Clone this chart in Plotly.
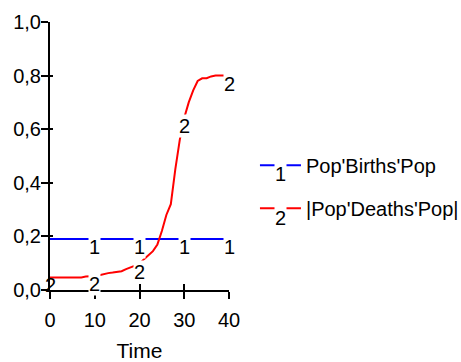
import plotly.graph_objects as go

# Simulation output, sampled once per time unit
time = list(range(0, 41))
births = [0.19] * 41
deaths = [0.047, 0.047, 0.047, 0.047, 0.047, 0.047, 0.047, 0.047, 0.050, 0.050,
          0.052, 0.055, 0.060, 0.063, 0.065, 0.067, 0.070, 0.078, 0.085, 0.090,
          0.097, 0.115, 0.130, 0.145, 0.170, 0.220, 0.280, 0.320, 0.450, 0.560,
          0.643, 0.700, 0.745, 0.780, 0.790, 0.790, 0.797, 0.800, 0.800, 0.800,
          0.800]

# Series identifiers drawn along each curve
births_marks = [10, 20, 30, 40]
deaths_marks = [0, 10, 20, 30, 40]

y_ticks = [0.0, 0.2, 0.4, 0.6, 0.8, 1.0]
x_ticks = [0, 10, 20, 30, 40]

FONT = "Liberation Sans, Arial, sans-serif"
FS = 20

fig = go.Figure()
fig.add_trace(go.Scatter(x=time, y=births, mode="lines", name="Pop'Births'Pop",
                         line=dict(color="#0000ff", width=2), legendgroup="a"))
fig.add_trace(go.Scatter(x=time, y=deaths, mode="lines", name="|Pop'Deaths'Pop|",
                         line=dict(color="#ff0000", width=2), legendgroup="b"))
# empty trace so the inner tick axes get a subplot
fig.add_trace(go.Scatter(x=[], y=[], xaxis="x2", yaxis="y2", showlegend=False))

annotations = []
for t in births_marks:
    annotations.append(dict(x=t, y=births[time.index(t)], xref="x", yref="y", text="1",
                            showarrow=False, xanchor="center", yanchor="top", yshift=4,
                            bgcolor="white", borderpad=0,
                            font=dict(family=FONT, size=FS, color="black")))
for t in deaths_marks:
    annotations.append(dict(x=t, y=deaths[time.index(t)], xref="x", yref="y", text="2",
                            showarrow=False, xanchor="center", yanchor="top", yshift=4,
                            bgcolor="white" if t > 0 else "rgba(0,0,0,0)",
                            borderpad=0, font=dict(family=FONT, size=FS, color="black")))
# legend item numbers
for label, yp in [("1", 0.4627), ("2", 0.2985)]:
    annotations.append(dict(x=1.285, y=yp, xref="paper", yref="paper", text=label,
                            showarrow=False, xanchor="center", yanchor="top", yshift=4,
                            bgcolor="white", borderpad=0,
                            font=dict(family=FONT, size=FS, color="black")))

axis_common = dict(showgrid=False, zeroline=False, linecolor="black", linewidth=2,
                   tickcolor="black", tickwidth=2,
                   tickfont=dict(family=FONT, size=FS, color="black"))

fig.update_layout(
    width=461, height=362,
    margin=dict(l=50, r=232, t=22, b=72, autoexpand=False),
    paper_bgcolor="white", plot_bgcolor="white",
    separators=",.",
    showlegend=True,
    legend=dict(x=1.145, y=0.538, xanchor="left", yanchor="top",
                font=dict(family=FONT, size=FS, color="black"),
                itemwidth=41, tracegroupgap=14, traceorder="grouped",
                bgcolor="rgba(0,0,0,0)"),
    xaxis=dict(range=[0, 40], tickvals=x_ticks, ticks="outside", ticklen=7,
               showline=True, ticklabelstandoff=4,
               title=dict(text="Time", font=dict(family=FONT, size=21, color="black"),
                          standoff=16),
               **axis_common),
    yaxis=dict(range=[0, 1], tickvals=y_ticks, tickformat=".1f", ticks="outside",
               ticklen=7, showline=True, ticklabelstandoff=-4, **axis_common),
    xaxis2=dict(range=[0, 40], tickvals=x_ticks, ticks="inside", ticklen=6,
                overlaying="x", anchor="y2", showline=False, showticklabels=False,
                showgrid=False, zeroline=False, tickcolor="black", tickwidth=2),
    yaxis2=dict(range=[0, 1], tickvals=y_ticks, ticks="inside", ticklen=3,
                overlaying="y", anchor="x2", showline=False, showticklabels=False,
                showgrid=False, zeroline=False, tickcolor="black", tickwidth=2),
    annotations=annotations,
)

fig.write_html("out.html")
